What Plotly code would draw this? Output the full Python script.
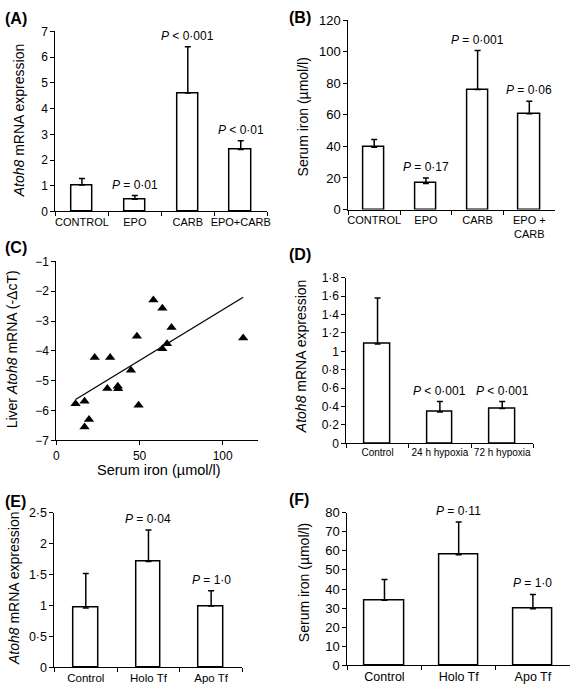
import plotly.graph_objects as go

W, H = 574, 695
FONT = "Liberation Sans, Arial, sans-serif"

# ---------------- data ----------------
A_categories = ["CONTROL", "EPO", "CARB", "EPO+CARB"]
A_values = [1.03, 0.48, 4.61, 2.41]
A_errors = [0.25, 0.14, 1.80, 0.34]
A_pvalues = ["", "<i>P</i> = 0·01", "<i>P</i> < 0·001", "<i>P</i> < 0·01"]

B_categories = ["CONTROL", "EPO", "CARB", "EPO +<br>CARB"]
B_values = [39.5, 16.5, 76.0, 60.6]
B_errors = [4.8, 3.5, 24.7, 7.9]
B_pvalues = ["", "<i>P</i> = 0·17", "<i>P</i> = 0·001", "<i>P</i> = 0·06"]

C_serum_iron = [11.5, 16.9, 16.9, 19.6, 23.0, 32.3, 30.6, 36.9, 37.1, 44.8,
                48.4, 49.4, 58.3, 63.7, 69.2, 66.5, 63.7, 112.3]
C_atoh8 = [-5.77, -5.69, -6.55, -6.30, -4.22, -4.22, -5.26, -5.18, -5.27, -4.65,
           -3.51, -5.82, -2.29, -2.57, -3.21, -3.76, -3.93, -3.57]
C_fit_slope = 0.034
C_fit_intercept = -6.02
C_yticks = [-1, -2, -3, -4, -5, -6, -7]
C_xticks = [0, 50, 100]

D_categories = ["Control", "24 h hypoxia", "72 h hypoxia"]
D_values = [1.08, 0.34, 0.38]
D_errors = [0.50, 0.115, 0.075]
D_pvalues = ["", "<i>P</i> < 0·001", "<i>P</i> < 0·001"]
D_tickvals = [0, 0.2, 0.4, 0.6, 0.8, 1.0, 1.2, 1.4, 1.6, 1.8]
D_ticktext = ["0", "0·2", "0·4", "0·6", "0·8", "1", "1·2", "1·4", "1·6", "1·8"]

E_categories = ["Control", "Holo Tf", "Apo Tf"]
E_values = [0.96, 1.71, 0.99]
E_errors = [0.555, 0.51, 0.25]
E_pvalues = ["", "<i>P</i> = 0·04", "<i>P</i> = 1·0"]
E_tickvals = [0, 0.5, 1.0, 1.5, 2.0, 2.5]
E_ticktext = ["0", "0·5", "1", "1·5", "2", "2·5"]

F_categories = ["Control", "Holo Tf", "Apo Tf"]
F_values = [34.1, 58.0, 29.7]
F_errors = [10.9, 17.1, 7.5]
F_pvalues = ["", "<i>P</i> = 0·11", "<i>P</i> = 1·0"]
F_tickvals = [0, 10, 20, 30, 40, 50, 60, 70, 80]


def px_x(p):
    return p / W


def px_y(p):
    return 1 - p / H


fig = go.Figure()
annotations = []

axis_common = dict(showline=True, linecolor="black", linewidth=1, ticks="outside",
                   ticklen=4, tickcolor="black", tickwidth=1, showgrid=False,
                   zeroline=False, fixedrange=True)


def add_bar_panel(idx, cats, vals, errs, pvals, xdom, ydom, yrange, bar_width,
                  xfont, yfont, ytickvals=None, yticktext=None, dtick=None):
    sfx = "" if idx == 1 else str(idx)
    fig.add_trace(go.Bar(
        x=cats, y=vals, width=bar_width,
        marker=dict(color="white", line=dict(color="black", width=1.5)),
        error_y=dict(type="data", symmetric=False, array=errs,
                     arrayminus=[0] * len(errs), color="black", thickness=1.5, width=3),
        xaxis="x" + sfx, yaxis="y" + sfx, showlegend=False, hoverinfo="skip"))
    xa = dict(axis_common, domain=[px_x(xdom[0]), px_x(xdom[1])], anchor="y" + sfx,
              type="category", tickson="boundaries", range=[-0.5, len(cats) - 0.5],
              tickangle=0,
              tickfont=dict(family=FONT, size=xfont, color="black"))
    ya = dict(axis_common, domain=[px_y(ydom[0]), px_y(ydom[1])], anchor="x" + sfx,
              range=yrange, tickfont=dict(family=FONT, size=yfont, color="black"))
    if ytickvals is not None:
        ya.update(tickmode="array", tickvals=ytickvals,
                  ticktext=yticktext if yticktext is not None else [str(v) for v in ytickvals])
    elif dtick is not None:
        ya.update(dtick=dtick, tick0=0)
    fig.update_layout(**{"xaxis" + sfx: xa, "yaxis" + sfx: ya})
    for c, v, e, p in zip(cats, vals, errs, pvals):
        if p:
            annotations.append(dict(x=c, y=v + e, xref="x" + sfx, yref="y" + sfx,
                                    text=p, showarrow=False, yanchor="bottom", yshift=2,
                                    font=dict(family=FONT, size=12, color="black")))


add_bar_panel(1, A_categories, A_values, A_errors, A_pvalues, (53, 267), (209, 25),
              [0, 7.002], 0.41, 11, 12, dtick=1)
add_bar_panel(2, B_categories, B_values, B_errors, B_pvalues, (349, 558), (207, 13.3),
              [0, 120.03], 0.41, 11, 13, dtick=20)
add_bar_panel(4, D_categories, D_values, D_errors, D_pvalues, (347, 536), (446, 276.7),
              [0, 1.8005], 0.41, 10, 12, ytickvals=D_tickvals, yticktext=D_ticktext)
add_bar_panel(5, E_categories, E_values, E_errors, E_pvalues, (52, 242), (675, 516.7),
              [0, 2.5007], 0.39, 11.5, 12.5, ytickvals=E_tickvals, yticktext=E_ticktext)
add_bar_panel(6, F_categories, F_values, F_errors, F_pvalues, (348, 573), (673, 516.7),
              [0, 80.02], 0.53, 12.5, 13, ytickvals=F_tickvals)

# ---------------- panel C scatter ----------------
fig.add_trace(go.Scatter(
    x=C_serum_iron, y=C_atoh8, mode="markers",
    marker=dict(symbol="triangle-up", size=9, color="black"),
    xaxis="x3", yaxis="y3", showlegend=False, hoverinfo="skip"))
fit_x = [min(C_serum_iron), max(C_serum_iron)]
fit_y = [C_fit_intercept + C_fit_slope * v for v in fit_x]
fig.add_trace(go.Scatter(
    x=fit_x, y=fit_y, mode="lines", line=dict(color="black", width=1.3),
    xaxis="x3", yaxis="y3", showlegend=False, hoverinfo="skip"))
fig.update_layout(
    xaxis3=dict(axis_common, domain=[px_x(54), px_x(258)], anchor="y3", range=[0, 121.4],
                tickmode="array", tickvals=C_xticks,
                tickfont=dict(family=FONT, size=12, color="black")),
    yaxis3=dict(axis_common, domain=[px_y(443), px_y(260)], anchor="x3", range=[-7, -0.998],
                tickmode="array", tickvals=C_yticks,
                tickfont=dict(family=FONT, size=12, color="black")),
)

# ---------------- axis titles ----------------
TITLE_SIZE = 14
ytitles = [
    ("<i>Atoh8</i> mRNA expression", 17, 116),
    ("Serum iron (µmol/l)", 303, 112),
    ("Liver <i>Atoh8</i> mRNA (-ΔcT)", 10, 350),
    ("<i>Atoh8</i> mRNA expression", 301, 357),
    ("<i>Atoh8</i> mRNA expression", 11, 594),
    ("Serum iron (µmol/l)", 304, 588),
]
for txt, xp, yp in ytitles:
    annotations.append(dict(x=px_x(xp), y=px_y(yp), xref="paper", yref="paper",
                            text=txt, textangle=-90, showarrow=False,
                            xanchor="center", yanchor="middle",
                            font=dict(family=FONT, size=TITLE_SIZE, color="black")))
annotations.append(dict(x=px_x(158), y=px_y(473), xref="paper", yref="paper",
                        text="Serum iron (µmol/l)", showarrow=False,
                        xanchor="center", yanchor="middle",
                        font=dict(family=FONT, size=14.5, color="black")))

# ---------------- panel letters ----------------
letters = [("(A)", 0, 12), ("(B)", 287, 11), ("(C)", 0, 246),
           ("(D)", 287, 253), ("(E)", 0, 505), ("(F)", 287, 503)]
for txt, xp, yp in letters:
    annotations.append(dict(x=px_x(xp), y=px_y(yp), xref="paper", yref="paper",
                            text="<b>" + txt + "</b>", showarrow=False,
                            xanchor="left", yanchor="middle",
                            font=dict(family=FONT, size=16, color="black")))

fig.update_layout(
    width=W, height=H, margin=dict(l=0, r=0, t=0, b=0),
    paper_bgcolor="white", plot_bgcolor="white",
    font=dict(family=FONT, color="black"),
    annotations=annotations, bargap=0,
)

fig.write_html("out.html", config={"displayModeBar": False},
               post_script="document.body.style.margin='0';")
